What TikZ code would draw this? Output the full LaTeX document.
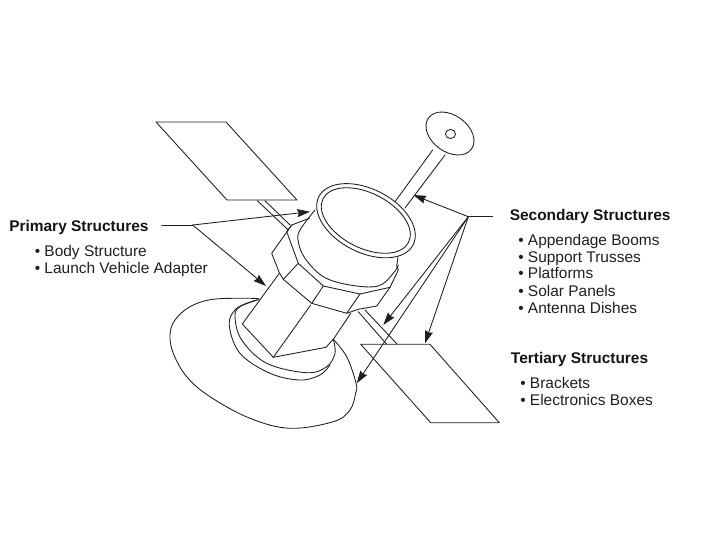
\documentclass[tikz,border=0pt]{standalone}
\usepackage{fontspec}
\setmainfont{Liberation Sans}
\usetikzlibrary{arrows.meta}
\tikzset{
  ln/.style={draw=black!88,line width=0.65pt,line join=round,line cap=round},
  arw/.style={ln,-{Stealth[length=9.5pt,width=6pt,inset=1pt]}},
  curv/.style={ln,smooth,tension=0.6},
  head/.style={anchor=base west,inner sep=0pt,font=\fontsize{11.6}{13}\selectfont\bfseries,text=black!92},
  item/.style={anchor=base west,inner sep=0pt,font=\fontsize{11.6}{13}\selectfont,text=black!88}
}
\begin{document}
\begin{tikzpicture}[x=0.75pt,y=-0.75pt]
\useasboundingbox (0,0) rectangle (720,540);
% solar panels
\draw[ln] (156,122) -- (226,122) -- (297,200) -- (227,200) -- cycle;
\draw[ln] (360.7,344.3) -- (430,344.3) -- (499.3,422.7) -- (430.7,422.7) -- cycle;
% trusses
\draw[ln] (257.3,200.7) -- (288.3,230);
\draw[ln] (265,200.7) -- (290,225);
\draw[ln] (358.3,311.7) -- (386.7,344.3);
\draw[ln] (365,310) -- (397.3,344.3);
% antenna
\draw[ln] (450,133.5) circle[x radius=19.9pt,y radius=13.7pt,rotate=-36];
\draw[ln] (450.5,134) circle[x radius=3.8pt,y radius=3.4pt];
\draw[ln] (432.7,150) -- (395,201.7);
\draw[ln] (445,155) -- (405,208);
% ring
\draw[ln] (366,220.7) circle[x radius=39.7pt,y radius=23.8pt,rotate=-27];
\draw[ln] (365.8,220.5) circle[x radius=36pt,y radius=20.6pt,rotate=-27];
% cylinder
\draw[curv] plot coordinates {(315,210) (300,230) (298.3,241.7) (305,258.3) (323.3,276.7) (350,285) (378.3,286) (393.3,273.3) (398.3,265)};
\draw[ln] (398,257.3) -- (396.7,266) -- (398.3,270) -- (390,287.3);
% flange
\draw[ln] (309.3,218.3) -- (291.7,225) -- (271.7,253.3) -- (279.3,272.7) -- (283.3,279.3) -- (311.7,303.3) -- (346.7,313.3) -- (358.3,309.3) -- (376.7,306) -- (390,287.3);
\draw[ln] (291.7,225) -- (286.7,231.7) -- (298.3,263.3) -- (323.3,286) -- (360,294) -- (390,287.3);
\draw[ln] (298.3,263.3) -- (283.3,279.3);
\draw[ln] (323.3,286) -- (311.7,303.3);
\draw[ln] (360,294) -- (346.7,313.3);
% bus
\draw[ln] (279.3,273.3) -- (242.3,324) -- (273.3,357.3) -- (310.7,305);
\draw[ln] (273.3,357.3) -- (326,347.3) -- (334,338.3) -- (350.7,313.3);
% adapter and dish
\draw[curv] plot coordinates {(259,299.5) (240,306.7) (235,316.7) (241.7,340) (266.7,363.3) (306.7,372.7) (326.7,366.7) (335,353.3) (333.3,339.3)};
\draw[curv] plot coordinates {(257,300) (236.7,308.3) (229.3,325) (240,353.3) (270,373.3) (300,380) (320,375) (330,365)};
\draw[curv] plot coordinates {(259.3,299) (250,298.3) (213,299.3) (190,306.7) (175,320) (170,335) (173.3,353.3) (186.7,376.7) (210,396.7) (250,418.3) (290,428.3) (333.3,421.7) (350,410) (355.7,393) (356,383) (346.7,356.7) (333.3,339.3)};
% labels
\node[head] (prim) at (9,231.7) {Primary Structures};
\node[item] (p1) at (34.5,256.7) {• Body Structure};
\node[item] (p2) at (34.5,273) {• Launch Vehicle Adapter};
\node[head] (sec) at (509.5,220.7) {Secondary Structures};
\node[item] (s1) at (518,245) {• Appendage Booms};
\node[item] (s2) at (518,262) {• Support Trusses};
\node[item] (s3) at (518,278.7) {• Platforms};
\node[item] (s4) at (518,296) {• Solar Panels};
\node[item] (s5) at (518,313.3) {• Antenna Dishes};
\node[head] (ter) at (510.7,363.3) {Tertiary Structures};
\node[item] (t1) at (520,388) {• Brackets};
\node[item] (t2) at (520,405.7) {• Electronics Boxes};
% leaders
\coordinate (pa) at (161.7,225);
\coordinate (pb) at (192.7,225);
\coordinate (sa) at (492.7,216.7);
\coordinate (sb) at (468.3,216.7);
\coordinate (e1) at (310,211.7);
\coordinate (e2) at (266,286);
\coordinate (e3) at (413.3,195);
\coordinate (e4) at (383.3,325);
\coordinate (e5) at (356.7,383.3);
\coordinate (e6) at (425,343.3);
\draw[ln] (pa) -- (pb);
\draw[arw] (pb) -- (e1);
\draw[arw] (pb) -- (e2);
\draw[ln] (sa) -- (sb);
\draw[arw] (sb) -- (e3);
\draw[arw] (sb) -- (e4);
\draw[arw] (sb) -- (e5);
\draw[arw] (sb) -- (e6);
\end{tikzpicture}
\end{document}
